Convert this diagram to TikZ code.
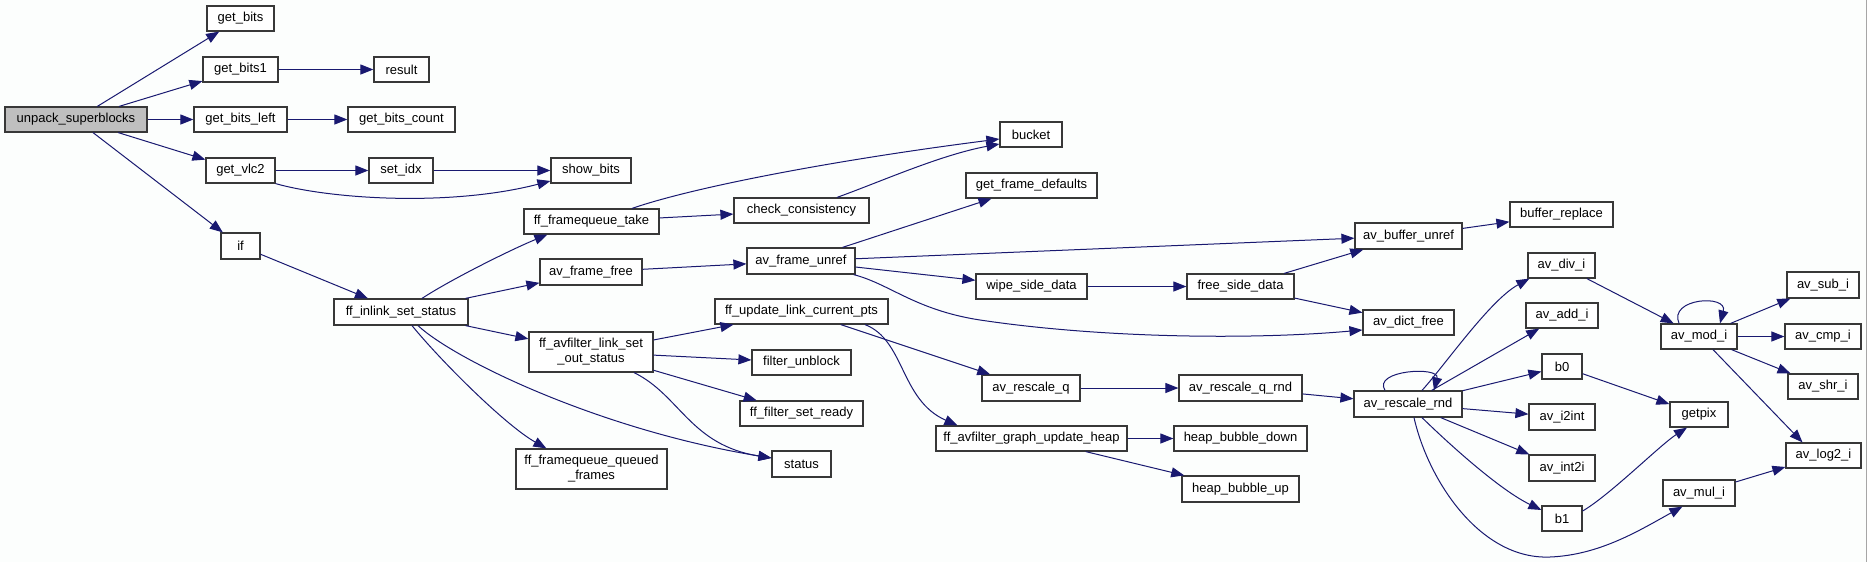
\documentclass[tikz,border=0pt]{standalone}
\usepackage{fontspec}
\setmainfont{Liberation Sans}
\usetikzlibrary{arrows.meta,calc}
\definecolor{edgec}{RGB}{25,25,112}
\definecolor{boxc}{RGB}{56,56,56}
\definecolor{fillg}{RGB}{191,191,191}
\definecolor{bgc}{RGB}{252,254,253}
\newcommand\bx[7][white]{\node[box, fill=#1, minimum width={(#5-#3)*1pt}, minimum height={(#6-#4)*1pt}] (#2) at ({(#3+#5)/2},{(#4+#6)/2}) {#7};}
\tikzset{
  box/.style={draw=boxc, line width=1.2pt, inner sep=0pt, font=\fontsize{13}{15}\selectfont, align=center},
  edge/.style={draw=edgec, line width=1pt, -{Triangle[length=13pt,width=10pt]}},
}
\begin{document}
\begin{tikzpicture}[x=1pt,y=-1pt]
\useasboundingbox (0,0) rectangle (1867,562);
\fill[bgc] (0,0) rectangle (1867,562);
\fill[gray!70] (1866,0) rectangle (1867,562);
% nodes
\bx[fillg]{unp}{5}{107}{147}{132}{unpack\_superblocks}
\bx{gb}{207}{6}{274}{31}{get\_bits}
\bx{gb1}{203}{57}{278}{82}{get\_bits1}
\bx{res}{374}{57}{429}{82}{result}
\bx{gbl}{194}{107}{287}{132}{get\_bits\_left}
\bx{gbc}{348}{107}{455}{132}{get\_bits\_count}
\bx{vlc}{206}{158}{275}{183}{get\_vlc2}
\bx{sidx}{369}{158}{433}{183}{set\_idx}
\bx{ifn}{221}{233}{260}{259}{if}
\bx{sb}{551}{158}{631}{183}{show\_bits}
\bx{fis}{334}{299}{468}{325}{ff\_inlink\_set\_status}
\bx{fqt}{524}{209}{659}{234}{ff\_framequeue\_take}
\bx{cc}{734}{198}{869}{223}{check\_consistency}
\bx{bucket}{1000}{122}{1062}{147}{bucket}
\bx{aff}{540}{259}{642}{285}{av\_frame\_free}
\bx{afu}{747}{248}{855}{274}{av\_frame\_unref}
\bx{gfd}{966}{173}{1097}{198}{get\_frame\_defaults}
\bx{abu}{1355}{223}{1462}{249}{av\_buffer\_unref}
\bx{br}{1510}{202}{1613}{227}{buffer\_replace}
\bx{wsd}{976}{274}{1087}{299}{wipe\_side\_data}
\bx{fsd}{1187}{274}{1294}{299}{free\_side\_data}
\bx{adf}{1363}{310}{1454}{335}{av\_dict\_free}
\bx{fals}{529}{332}{653}{372}{ff\_avfilter\_link\_set\\\_out\_status}
\bx{fulcp}{715}{299}{888}{324}{ff\_update\_link\_current\_pts}
\bx{fu}{752}{350}{851}{375}{filter\_unblock}
\bx{ffsr}{740}{401}{863}{426}{ff\_filter\_set\_ready}
\bx{st}{772}{451}{831}{477}{status}
\bx{fqqf}{516}{449}{667}{489}{ff\_framequeue\_queued\\\_frames}
\bx{arq}{982}{375}{1080}{401}{av\_rescale\_q}
\bx{arqr}{1179}{375}{1302}{401}{av\_rescale\_q\_rnd}
\bx{agu}{936}{426}{1127}{451}{ff\_avfilter\_graph\_update\_heap}
\bx{hbd}{1174}{426}{1307}{451}{heap\_bubble\_down}
\bx{hbu}{1182}{476}{1299}{502}{heap\_bubble\_up}
\bx{arr}{1354}{391}{1462}{417}{av\_rescale\_rnd}
\bx{adiv}{1528}{253}{1595}{278}{av\_div\_i}
\bx{aadd}{1526}{303}{1598}{328}{av\_add\_i}
\bx{b0}{1542}{354}{1582}{379}{b0}
\bx{i2i}{1529}{404}{1595}{430}{av\_i2int}
\bx{int2i}{1529}{455}{1595}{481}{av\_int2i}
\bx{b1}{1542}{506}{1582}{531}{b1}
\bx{amul}{1663}{480}{1735}{506}{av\_mul\_i}
\bx{mod}{1661}{324}{1737}{349}{av\_mod\_i}
\bx{sub}{1787}{272}{1859}{298}{av\_sub\_i}
\bx{cmp}{1785}{324}{1861}{349}{av\_cmp\_i}
\bx{shr}{1788}{374}{1858}{399}{av\_shr\_i}
\bx{log2}{1786}{443}{1861}{468}{av\_log2\_i}
\bx{getpix}{1670}{402}{1728}{427}{getpix}
% edges
\draw[edge] (unp) -- (gb);
\draw[edge] (unp) -- (gb1);
\draw[edge] (unp) -- (gbl);
\draw[edge] (unp) -- (vlc);
\draw[edge] (unp) -- (ifn);
\draw[edge] (gb1) -- (res);
\draw[edge] (gbl) -- (gbc);
\draw[edge] (vlc) -- (sidx);
\draw[edge] (sidx) -- (sb);
\draw[edge] (vlc.south east) .. controls (330,199) and (450,207) .. ($(sb.west)+(0,10.5)$);
\draw[edge] (ifn) -- (fis);
\draw[edge] ($(fis.north)+(21,0)$) .. controls (450,280) and (510,250) .. ($(fqt.south west)+(24,0)$);
\draw[edge] (fis) -- (aff);
\draw[edge] (fis) -- (fals);
\draw[edge] ($(fis.south)+(11,0)$) .. controls (440,360) and (505,425) .. ($(fqqf.north west)+(31,0)$);
\draw[edge] ($(fis.south)+(17,0)$) .. controls (455,360) and (600,430) .. ($(st.west)+(0,-6)$);
\draw[edge] ($(fqt.north)+(40.5,0)$) .. controls (700,185) and (850,158) .. ($(bucket.west)+(0,4.5)$);
\draw[edge] (fqt) -- (cc);
\draw[edge] ($(cc.north)+(35.5,0)$) .. controls (880,182) and (940,155) .. ($(bucket.west)+(0,9.5)$);
\draw[edge] (aff) -- (afu);
\draw[edge] (afu) -- (gfd);
\draw[edge] (afu) -- (abu);
\draw[edge] (afu) -- (wsd);
\draw[edge] ($(afu.south east)+(-2,0)$) .. controls (890,284) and (915,310) .. (980,320) .. controls (1100,338) and (1250,340) .. ($(adf.west)+(0,7.5)$);
\draw[edge] (wsd) -- (fsd);
\draw[edge] (fsd) -- (abu);
\draw[edge] (fsd) -- (adf);
\draw[edge] (abu) -- (br);
\draw[edge] (fals) -- (fulcp);
\draw[edge] (fals) -- (fu);
\draw[edge] (fals) -- (ffsr);
\draw[edge] ($(fals.south)+(43,0)$) .. controls (680,395) and (690,445) .. ($(st.west)+(0,-6)$);
\draw[edge] (fulcp) -- (arq);
\draw[edge] ($(fulcp.south)+(63.5,0)$) .. controls (905,340) and (900,400) .. ($(agu.north west)+(22,0)$);
\draw[edge] (arq) -- (arqr);
\draw[edge] (arqr) -- (arr);
\draw[edge] (agu) -- (hbd);
\draw[edge] (agu) -- (hbu);
\draw[edge] ($(arr.north)+(-23,0)$) .. controls (1372,370) and (1440,366) .. ($(arr.north)+(26,0)$);
\draw[edge] ($(arr.north)+(14,0)$) .. controls (1445,365) and (1490,300) .. ($(adiv.south west)+(2,0)$);
\draw[edge] (arr) -- (aadd);
\draw[edge] (arr) -- (b0);
\draw[edge] (arr) -- (i2i);
\draw[edge] (arr) -- (int2i);
\draw[edge] ($(arr.south)+(14,0)$) .. controls (1450,445) and (1500,490) .. ($(b1.west)+(0,-8.5)$);
\draw[edge] ($(arr.south)+(6,0)$) .. controls (1428,480) and (1480,560) .. (1550,557) .. controls (1600,555) and (1640,530) .. ($(amul.south west)+(20,0)$);
\draw[edge] (adiv) -- (mod);
\draw[edge] ($(mod.north)+(-20,0)$) .. controls (1668,298) and (1728,294) .. ($(mod.north)+(21,0)$);
\draw[edge] (mod) -- (sub);
\draw[edge] (mod) -- (cmp);
\draw[edge] (mod) -- (shr);
\draw[edge] ($(mod.south)+(14,0)$) -- ($(log2.north)+(-21,0)$);
\draw[edge] (b0) -- (getpix);
\draw[edge] ($(b1.east)+(0,-7.5)$) .. controls (1610,495) and (1660,445) .. ($(getpix.south)+(-12,0)$);
\draw[edge] (amul) -- (log2);
\end{tikzpicture}
\end{document}
